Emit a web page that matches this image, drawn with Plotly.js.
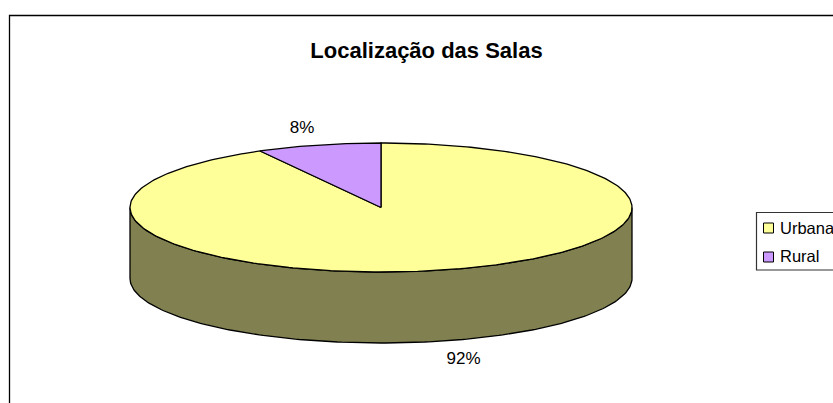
<!DOCTYPE html>
<html>
<head>
<meta charset="utf-8">
<script src="https://cdn.plot.ly/plotly-3.0.1.min.js"></script>
<style>html,body{margin:0;padding:0;background:#fff}#chart{width:833px;height:403px}</style>
</head>
<body>
<div id="chart"></div>
<script>
const chartTitle = "Localização das Salas";
const categories = ["Urbana", "Rural"];
const shares = [92, 8];
const topColors = ["#FFFF99", "#CC99FF"];
const sideColors = ["#808050", "#664D80"];

// Projection of the tilted disc onto the pixel-scaled axes
const cx = 381, cy = 207.5, rx = 251, ry = 64.5, depth = 71;
const FONT = '"Liberation Sans", Arial, sans-serif';
const px = a => cx + rx * Math.sin(a);
const py = (a, d) => cy - ry * Math.cos(a) + (d || 0);

const total = shares.reduce((s, v) => s + v, 0);
let start = 0;
const slices = shares.map(v => {
  const from = start, to = start + v / total * 2 * Math.PI;
  start = to;
  return {from, to};
});

function arc(from, to, d) {
  const n = Math.max(2, Math.ceil(Math.abs(to - from) / (Math.PI / 180)));
  const xs = [], ys = [];
  for (let i = 0; i <= n; i++) {
    const a = from + (to - from) * i / n;
    xs.push(px(a)); ys.push(py(a, d));
  }
  return {xs, ys};
}

const traces = [];
const line = {color: "#000", width: 1.3};

// Visible rim: the front half of each slice, extruded downward
slices.forEach((s, i) => {
  const a0 = Math.max(s.from, Math.PI / 2), a1 = Math.min(s.to, 3 * Math.PI / 2);
  if (a1 <= a0) return;
  const top = arc(a0, a1, 0), bot = arc(a1, a0, depth);
  traces.push({
    type: "scatter", mode: "lines", fill: "toself", fillcolor: sideColors[i], line,
    x: top.xs.concat(bot.xs, [top.xs[0]]), y: top.ys.concat(bot.ys, [top.ys[0]]),
    hoverinfo: "skip"
  });
});

// Top face of each slice
slices.forEach((s, i) => {
  const a = arc(s.from, s.to, 0);
  traces.push({
    type: "scatter", mode: "lines", fill: "toself", fillcolor: topColors[i], line,
    x: [cx].concat(a.xs, [cx]), y: [cy].concat(a.ys, [cy]),
    name: categories[i], hoverinfo: "name"
  });
});

// Percentage labels
const labelX = [463.5, 302], labelY = [360, 129];
traces.push({
  type: "scatter", mode: "text", x: labelX, y: labelY,
  text: shares.map(v => Math.round(v / total * 100) + "%"),
  textposition: "middle center",
  textfont: {family: FONT, size: 17, color: "#000"},
  hoverinfo: "skip"
});

// Legend keys
const keyX = 768.5, keyY = [228, 257];
traces.push({
  type: "scatter", mode: "markers", x: categories.map(() => keyX), y: keyY,
  marker: {symbol: "square", size: 10, color: topColors, line: {color: "#000", width: 1}},
  hoverinfo: "skip"
});

const layout = {
  width: 833, height: 403,
  margin: {l: 0, r: 0, t: 0, b: 0, pad: 0},
  paper_bgcolor: "#fff", plot_bgcolor: "#fff",
  showlegend: false,
  title: {text: "<b>" + chartTitle + "</b>", x: 426.5 / 833, y: 1 - 50 / 403,
          xanchor: "center", yanchor: "middle",
          font: {family: FONT, size: 22, color: "#000"}},
  xaxis: {range: [0, 833], visible: false, fixedrange: true},
  yaxis: {range: [403, 0], visible: false, fixedrange: true},
  shapes: [
    {type: "rect", xref: "x", yref: "y", x0: 9.5, x1: 900, y0: 15.5, y1: 500,
     line: {color: "#000", width: 1.3}, layer: "below"},
    {type: "rect", xref: "x", yref: "y", x0: 756.5, x1: 900, y0: 212.5, y1: 270,
     line: {color: "#333", width: 1.2}, layer: "below"}
  ],
  annotations: categories.map((c, i) => ({
    xref: "x", yref: "y", x: 779, y: keyY[i] - (i ? 1 : 0), text: c, showarrow: false,
    xanchor: "left", yanchor: "middle", xshift: -1,
    font: {family: FONT, size: 16.5, color: "#000"}
  }))
};

Plotly.newPlot("chart", traces, layout, {displayModeBar: false, responsive: false});
</script>
</body>
</html>
